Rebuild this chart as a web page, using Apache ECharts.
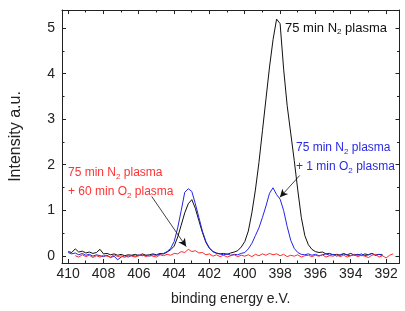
<!DOCTYPE html>
<html><head><meta charset="utf-8">
<script src="https://cdn.jsdelivr.net/npm/echarts@6/dist/echarts.min.js"></script>
<style>html,body{margin:0;padding:0;background:#fff}#c{width:405px;height:311px}</style>
</head><body><div id="c"></div>
<script>
const energy = [
410.0,409.8,409.6,409.4,409.2,409.0,408.8,408.6,408.4,408.2,
408.0,407.8,407.6,407.4,407.2,407.0,406.8,406.6,406.4,406.2,
406.0,405.8,405.6,405.4,405.2,405.0,404.8,404.6,404.4,404.2,
404.0,403.8,403.6,403.4,403.2,403.0,402.8,402.6,402.4,402.2,
402.0,401.8,401.6,401.4,401.2,401.0,400.8,400.6,400.4,400.2,
400.0,399.8,399.6,399.4,399.2,399.0,398.8,398.6,398.4,398.2,
398.0,397.8,397.6,397.4,397.2,397.0,396.8,396.6,396.4,396.2,
396.0,395.8,395.6,395.4,395.2,395.0,394.8,394.6,394.4,394.2,
394.0,393.8,393.6,393.4,393.2,393.0,392.8,392.6,392.4,392.2,
392.0,391.8,391.6];
const n2Only = [
0.10,0.08,0.16,0.09,0.11,0.07,0.09,0.06,0.08,0.15,
0.05,0.06,0.03,0.05,0.02,0.04,0.01,0.03,0.02,0.04,
0.01,0.05,0.02,0.03,0.05,0.03,0.06,0.05,0.09,0.14,
0.22,0.42,0.68,0.95,1.15,1.24,1.05,0.78,0.52,0.30,
0.17,0.10,0.07,0.05,0.06,0.04,0.07,0.09,0.12,0.20,
0.32,0.55,0.95,1.45,2.05,2.75,3.45,4.15,4.75,5.20,
5.10,4.10,3.30,2.70,2.10,1.45,0.85,0.45,0.25,0.15,
0.10,0.08,0.09,0.05,0.06,0.03,0.04,0.02,0.05,0.03,
0.06,0.02,0.04,0.01,0.05,0.03,0.06,0.02,0.04,0.03,
null,null,null];
const o2Short = [
0.08,0.05,0.07,0.03,0.06,0.02,0.04,0.00,0.03,0.01,
-0.01,0.02,-0.03,0.00,-0.08,-0.02,0.01,-0.02,0.02,0.00,
0.03,0.01,0.02,0.00,0.03,0.02,0.04,0.06,0.10,0.17,
0.32,0.62,1.00,1.40,1.48,1.42,1.15,0.85,0.55,0.32,
0.18,0.10,0.06,0.05,0.03,0.05,0.02,0.04,0.03,0.06,
0.08,0.16,0.28,0.45,0.62,0.85,1.10,1.38,1.50,1.35,
1.25,1.00,0.65,0.35,0.17,0.08,0.04,0.03,0.05,0.02,
0.04,0.01,0.03,0.05,0.02,0.04,0.00,0.03,0.06,0.02,
0.01,0.04,0.02,0.05,0.01,0.03,0.06,0.02,0.04,0.01,
null,null,null];
const o2Long = [
null,null,0.01,-0.02,0.03,-0.01,0.02,-0.03,0.01,-0.02,
0.02,0.00,-0.02,0.03,-0.01,0.01,-0.03,0.02,0.00,-0.02,
0.01,0.03,-0.01,0.02,0.00,-0.02,0.03,0.01,0.04,0.02,
0.06,0.05,0.10,0.08,0.15,0.10,0.12,0.07,0.08,0.03,
0.05,0.00,0.03,-0.01,0.02,-0.02,0.01,0.03,-0.01,0.02,
0.00,0.03,-0.01,0.04,0.01,0.05,0.02,0.06,0.03,0.05,
0.01,0.04,-0.01,0.02,0.00,0.03,-0.02,0.01,0.02,-0.01,
0.02,0.00,0.03,-0.02,0.01,0.00,0.03,-0.01,0.02,-0.02,
0.01,0.03,-0.01,0.02,0.00,-0.03,0.02,0.04,-0.02,0.01,
-0.04,0.02,0.05];
const xMajor = [392,394,396,398,400,402,404,406,408,410];
const xMinor = [393,395,397,399,401,403,405,407,409];
const yMajor = [0,1,2,3,4,5];
const yMinor = [0.5,1.5,2.5,3.5,4.5];
const arrowRed = [[405.27,1.31],[403.32,0.21]];
const arrowBlue = [[396.89,1.77],[398.01,1.29]];

const FONT = '"Liberation Sans", Arial, sans-serif';
const XMIN = 391.24, XMAX = 410.35, YMIN = -0.15, YMAX = 5.4;
const lineCol = '#222';

function pairs(vals) { return energy.map((e, i) => [e, vals[i]]); }
function arrow(a) { return [{coord: a[0]}, {coord: a[1]}]; }
const frameLine = {show: true, onZero: false, lineStyle: {color: lineCol, width: 1}};

const chart = echarts.init(document.getElementById('c'), null, {renderer: 'canvas'});
chart.setOption({
  animation: false,
  backgroundColor: '#fff',
  grid: {left: 57, right: 5.5, top: 10, bottom: 47.5},
  xAxis: [
    {type: 'value', position: 'bottom', inverse: true, min: XMIN, max: XMAX,
     axisLine: frameLine, axisTick: {show: false}, splitLine: {show: false},
     axisLabel: {show: true, customValues: xMajor, margin: 4, fontSize: 14, color: '#222', fontFamily: FONT},
     name: 'binding energy e.V.', nameLocation: 'middle', nameGap: 29,
     nameTextStyle: {fontSize: 14, color: '#222', fontFamily: FONT}},
    {type: 'value', position: 'top', inverse: true, min: XMIN, max: XMAX,
     axisLine: frameLine, axisTick: {show: false}, axisLabel: {show: false}, splitLine: {show: false}}
  ],
  yAxis: [
    {type: 'value', position: 'left', min: YMIN, max: YMAX,
     axisLine: frameLine, axisTick: {show: false}, splitLine: {show: false},
     axisLabel: {show: true, customValues: yMajor, margin: 7, fontSize: 14, color: '#222', fontFamily: FONT},
     name: 'Intensity a.u.', nameLocation: 'middle', nameGap: 38,
     nameTextStyle: {fontSize: 16, color: '#222', fontFamily: FONT}},
    {type: 'value', position: 'right', min: YMIN, max: YMAX,
     axisLine: frameLine, axisTick: {show: false}, axisLabel: {show: false}, splitLine: {show: false}}
  ],
  series: [
    {type: 'line', name: '75 min N2', data: pairs(n2Only), showSymbol: false, lineStyle: {color: '#111', width: 1}, itemStyle: {color: '#111'}},
    {type: 'line', name: '+1 min O2', data: pairs(o2Short), showSymbol: false, lineStyle: {color: '#2424e8', width: 1}, itemStyle: {color: '#2424e8'}},
    {type: 'line', name: '+60 min O2', data: pairs(o2Long), showSymbol: false, lineStyle: {color: '#ff2a2a', width: 1}, itemStyle: {color: '#ff2a2a'},
      markLine: {silent: true, symbol: ['none', 'arrow'], symbolSize: [6, 8], label: {show: false},
        lineStyle: {color: '#111', width: 0.8, type: 'solid'},
        data: [arrow(arrowRed), arrow(arrowBlue)]}}
  ]
});

// ticks on all four sides (inward), placed through the axis scales
const g = [];
const yBot = chart.convertToPixel({yAxisIndex: 0}, YMIN);
const yTop = chart.convertToPixel({yAxisIndex: 0}, YMAX);
const xLeft = chart.convertToPixel({xAxisIndex: 0}, XMAX);
const xRight = chart.convertToPixel({xAxisIndex: 0}, XMIN);
function seg(x1, y1, x2, y2) {
  g.push({type: 'line', silent: true, shape: {x1: x1, y1: y1, x2: x2, y2: y2},
    style: {stroke: lineCol, lineWidth: 1}});
}
function crisp(v) { return Math.round(v - 0.5) + 0.5; }
function xTicks(vals, len) {
  vals.forEach(v => {
    const px = crisp(chart.convertToPixel({xAxisIndex: 0}, v));
    seg(px, yBot, px, yBot - len);
    seg(px, yTop, px, yTop + len);
  });
}
function yTicks(vals, len) {
  vals.forEach(v => {
    const py = crisp(chart.convertToPixel({yAxisIndex: 0}, v));
    seg(xLeft, py, xLeft + len, py);
    seg(xRight, py, xRight - len, py);
  });
}
xTicks(xMajor, 4); xTicks(xMinor, 2.5);
yTicks(yMajor, 4); yTicks(yMinor, 2.5);

const sub = {fontSize: 8, padding: [7, 0, 0, 0], fontFamily: FONT};
function txt(x, y, s, color, size) {
  return {type: 'text', x: x, y: y, silent: true,
    style: {text: s, fill: color, font: size + 'px ' + FONT, verticalAlign: 'middle',
      rich: {n: {fontSize: size, fill: color, fontFamily: FONT}, s: Object.assign({}, sub, {fill: color})}}};
}
g.push(
  txt(285, 28, '{n|75 min N}{s|2}{n| plasma}', '#111', 13),
  txt(296, 148, '{n|75 min N}{s|2}{n| plasma}', '#2a2ae6', 12),
  txt(296, 167, '{n|+ 1 min O}{s|2}{n| plasma}', '#2a2ae6', 12),
  txt(68, 173, '{n|75 min N}{s|2}{n| plasma}', '#ff3333', 12),
  txt(68, 192, '{n|+ 60 min O}{s|2}{n| plasma}', '#ff3333', 12)
);
chart.setOption({graphic: g});
</script></body></html>
